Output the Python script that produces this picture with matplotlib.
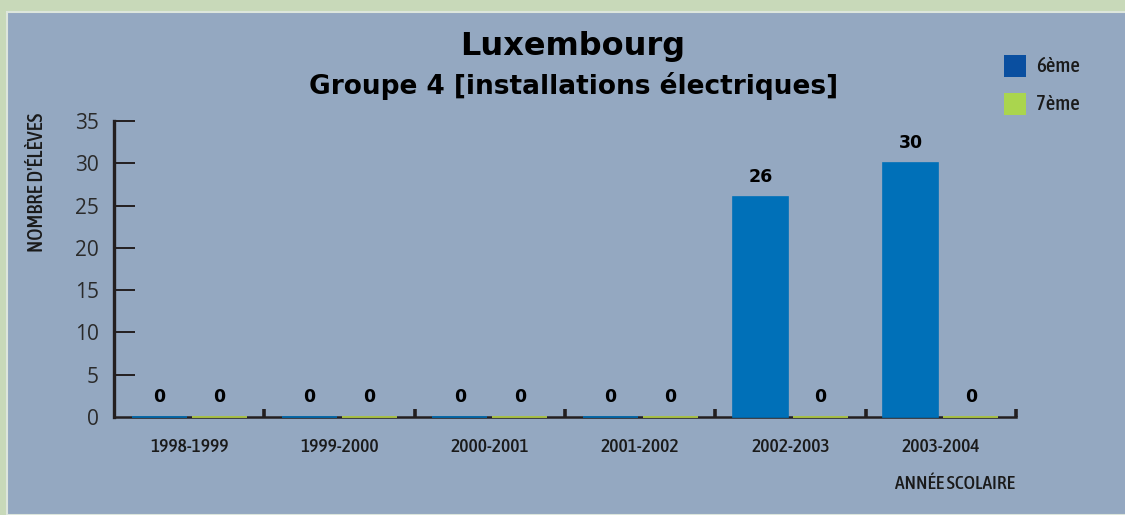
import matplotlib
matplotlib.use("Agg")
import matplotlib.pyplot as plt
import matplotlib.patches as patches
from matplotlib import font_manager
import numpy as np

# Data: number of students per school year
years = ["1998-1999", "1999-2000", "2000-2001", "2001-2002", "2002-2003", "2003-2004"]
sixieme = [0, 0, 0, 0, 26, 30]
septieme = [0, 0, 0, 0, 0, 0]

# Colours
outer_bg = "#c8d9b9"
panel_bg = "#94a8c1"
bar_blue = "#0070b8"
bar_green = "#bcd94a"
legend_blue = "#0a4fa0"
legend_green = "#aad54e"
axis_color = "#231f20"


def weight_of(f):
    w = f.weight
    if isinstance(w, str):
        w = font_manager.weight_dict.get(w, 400)
    return w


# Pick a condensed face of medium weight if one is installed
cond = [f for f in font_manager.fontManager.ttflist
        if "Condensed" in f.name or "Narrow" in f.name
        or f.stretch in ("condensed", "semi-condensed", "extra-condensed")]
cond = [f for f in cond if "Italic" not in f.fname and f.style == "normal"]
narrow_props = dict(family="DejaVu Sans", stretch="condensed")
if cond:
    best = min(cond, key=lambda f: abs(weight_of(f) - 550))
    narrow_props = dict(fname=best.fname)


def narrow(size):
    return font_manager.FontProperties(size=size, **narrow_props)


fig = plt.figure(figsize=(11.25, 5.15), dpi=100)
fig.patch.set_facecolor(outer_bg)

# Inner blue-grey panel
fig.patches.append(patches.Rectangle((7 / 1125, 0), 1.1, 1 - 12 / 515,
                                     transform=fig.transFigure, facecolor=panel_bg,
                                     edgecolor="#dde6dc", linewidth=1.5, zorder=-5))

ax = fig.add_axes([114 / 1125, 1 - 417 / 515, 902 / 1125, 296 / 515])
ax.set_facecolor("none")
ax.set_zorder(2)

x = np.arange(len(years))
width = 55 / 150
offset = 30 / 150

b1 = ax.bar(x - offset, sixieme, width, color=bar_blue, edgecolor=bar_blue,
            linewidth=1.2, zorder=4, clip_on=False)
b2 = ax.bar(x + offset, septieme, width, color=bar_green, edgecolor=bar_green,
            linewidth=1.2, zorder=4, clip_on=False)

# Value labels above each bar
for rect, v in list(zip(b1, sixieme)) + list(zip(b2, septieme)):
    ax.annotate(str(v), (rect.get_x() + rect.get_width() / 2, v),
                xytext=(0, 8), textcoords="offset points", ha="center", va="bottom",
                fontsize=12.5, fontweight="bold", color="black")

ax.set_xlim(-0.5, len(years) - 0.5)
ax.set_ylim(0, 35)

# Spines
for s in ["top", "right"]:
    ax.spines[s].set_visible(False)
ax.spines["left"].set_color(axis_color)
ax.spines["left"].set_linewidth(2.4)
ax.spines["bottom"].set_color(axis_color)
ax.spines["bottom"].set_linewidth(1.8)
ax.spines["bottom"].set_zorder(3)

# Y ticks pointing into the plot
ax.set_yticks(range(0, 36, 5))
ax.tick_params(axis="y", direction="in", length=15, width=1.4, color=axis_color,
               pad=11, labelsize=15, labelcolor="#2a2a2a")
for lab in ax.get_yticklabels():
    lab.set_fontfamily(["Open Sans", "DejaVu Sans"])
ax.yaxis.get_major_ticks()[0].tick1line.set_visible(False)

# X ticks: labels at group centres, small marks at group boundaries
ax.set_xticks(x)
ax.set_xticklabels(years, color="#1a1a1a")
for lab in ax.get_xticklabels():
    lab.set_fontproperties(narrow(14))
ax.tick_params(axis="x", which="major", length=0, pad=15)
ax.set_xticks(np.arange(0.5, len(years)), minor=True)
ax.tick_params(axis="x", which="minor", direction="in", length=6, width=2.6,
               color=axis_color)

# Axis titles
fig.text(37 / 1125, 1 - 182 / 515, "NOMBRE D'ÉLÈVES", rotation=90, ha="center",
         va="center", color="#1a1a1a", fontproperties=narrow(15))
fig.text(1015 / 1125, 1 - 484 / 515, "ANNÉE SCOLAIRE", ha="right", va="center",
         color="#1a1a1a", fontproperties=narrow(14))

# Titles
fig.text(573 / 1125, 1 - 47 / 515, "Luxembourg", ha="center", va="center",
         fontsize=23, fontweight="bold", color="black")
fig.text(574 / 1125, 1 - 86 / 515, "Groupe 4 [installations électriques]",
         ha="center", va="center", fontsize=19, fontweight="bold", color="black")

# Legend drawn as squares with labels
for yc, col, lab in [(66, legend_blue, "6ème"), (104, legend_green, "7ème")]:
    fig.patches.append(patches.Rectangle((1004 / 1125, 1 - (yc + 11) / 515),
                                         22 / 1125, 22 / 515, transform=fig.transFigure,
                                         facecolor=col, edgecolor="none"))
    fig.text(1036 / 1125, 1 - yc / 515, lab, ha="left", va="center", color="#1a1a1a",
             fontproperties=narrow(15))

fig.savefig("out.png", dpi=100, facecolor=fig.get_facecolor())
